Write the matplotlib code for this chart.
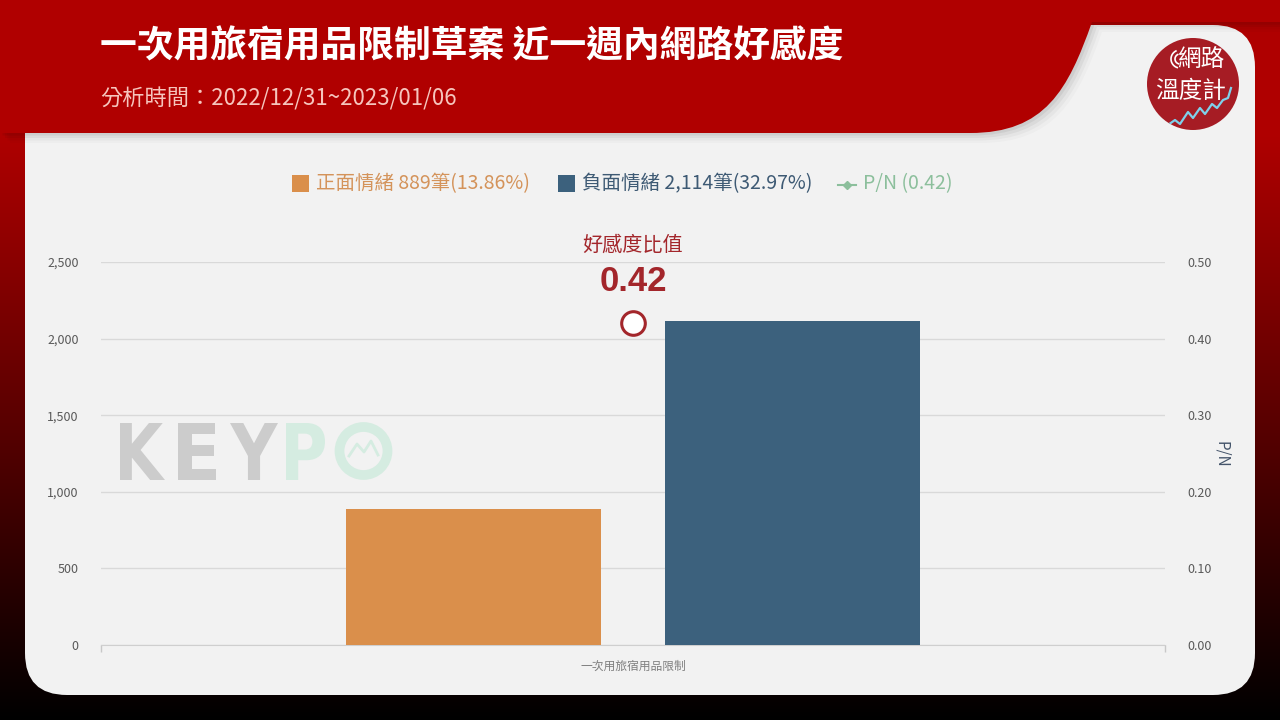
import numpy as np
import matplotlib
matplotlib.use('Agg')
import matplotlib.pyplot as plt
from matplotlib.patches import FancyBboxPatch, PathPatch, Rectangle, Circle
from matplotlib.path import Path
from matplotlib.lines import Line2D
from matplotlib.textpath import TextPath
from matplotlib.font_manager import FontProperties
import matplotlib.transforms as mtrans

plt.rcParams['font.family'] = ['Noto Sans CJK TC', 'DejaVu Sans']

# ---------------- data ----------------
title = '一次用旅宿用品限制草案 近一週內網路好感度'
subtitle = '分析時間：2022/12/31~2023/01/06'
categories = ['一次用旅宿用品限制']
positive = [889]
negative = [2114]
pn_ratio = [0.42]
legend_labels = ['正面情緒 889筆(13.86%)', '負面情緒 2,114筆(32.97%)', 'P/N (0.42)']
left_ticks = [0, 500, 1000, 1500, 2000, 2500]
right_ticks = [0.0, 0.1, 0.2, 0.3, 0.4, 0.5]
annot_title = '好感度比值'

ORANGE = '#da8f4b'
BLUE = '#3c617d'
GREEN = '#8cbf9c'
DARKRED = '#a3262b'

W, H = 1280, 720
fig = plt.figure(figsize=(12.8, 7.2), dpi=100)
bg = fig.add_axes([0, 0, 1, 1])
bg.set_xlim(0, W); bg.set_ylim(H, 0); bg.axis('off')

# background gradient (red -> black)
yy = np.linspace(0, H, 360)
r = np.clip((H - yy) / 587 * 0.69, 0, 0.69)
grad = np.zeros((360, 1, 3)); grad[:, 0, 0] = r
bg.imshow(grad, extent=[0, W, H, 0], aspect='auto', interpolation='bilinear', zorder=0)

# light panel
bg.add_patch(FancyBboxPatch((25, 25), 1230, 670, boxstyle='round,pad=0,rounding_size=42',
                            fc='#f2f2f2', ec='none', zorder=1))

# header band
M, L, C4, CL = Path.MOVETO, Path.LINETO, Path.CURVE4, Path.CLOSEPOLY
verts = [(0, 0), (W, 0), (W, 22), (1092, 22), (1068, 90), (1045, 133), (970, 133), (0, 133), (0, 0)]
codes = [M, L, L, L, C4, C4, C4, L, CL]
for k, a in enumerate([0.06, 0.045, 0.03, 0.02]):
    d = 2.5 * (k + 1)
    sh = [(vx + d, vy + d) if vy > 20 else (vx, vy) for vx, vy in verts]
    bg.add_patch(PathPatch(Path(sh, codes), fc='black', ec='none', alpha=a, zorder=1.5))
bg.add_patch(PathPatch(Path(verts, codes), fc='#b00000', ec='none', zorder=2))

bg.text(100, 47, title, color='white', fontsize=26.5, fontweight='bold', va='center', ha='left', zorder=3)
bg.text(100, 99, subtitle, color='#f6c5bd', fontsize=16, va='center', ha='left', zorder=3)

# logo
bg.add_patch(Circle((1193, 84), 46, fc='#a61c24', ec='none', zorder=3))
bg.text(1201, 60, '網路', color='white', fontsize=17, va='center', ha='center', zorder=4)
bg.text(1191, 91, '溫度計', color='white', fontsize=17, va='center', ha='center', zorder=4)
wave_x = [1155, 1165, 1175, 1180, 1188, 1193, 1200, 1205, 1212, 1217, 1223, 1228, 1231]
wave_y = [132, 127, 120, 124, 112, 118, 108, 114, 104, 108, 100, 98, 88]
wl, = bg.plot(wave_x, wave_y, color='#7fd0ea', lw=1.6, zorder=5)
wl.set_clip_path(Circle((1193, 84), 46, transform=bg.transData))
for rad in (5, 9):
    th = np.linspace(np.pi * 0.6, np.pi * 1.35, 20)
    bg.plot(1180 + rad * np.cos(th), 59 + rad * np.sin(th), color='white', lw=1.2, zorder=5)

# watermark KEYPO
fp = FontProperties(family='DejaVu Sans', weight='bold')
def draw_letter(ch, x0, x1, y_top, y_bot, color):
    tp = TextPath((0, 0), ch, size=100, prop=fp)
    bb = tp.get_extents()
    tr = (mtrans.Affine2D().translate(-bb.x0, -bb.y0)
          .scale((x1 - x0) / bb.width, -(y_bot - y_top) / bb.height).translate(x0, y_bot))
    bg.add_patch(PathPatch(tr.transform_path(tp), fc=color, ec='none', zorder=2))
draw_letter('K', 120, 165, 423, 480, '#cccccc')
draw_letter('E', 178, 216, 423, 480, '#cccccc')
draw_letter('Y', 230, 278, 423, 480, '#cccccc')
draw_letter('P', 286, 325, 423, 480, '#d5ece1')
bg.add_patch(Circle((363.5, 451), 24, fc='none', ec='#d5ece1', lw=7, zorder=2))
bg.plot([349, 357, 364, 371, 378], [456, 444, 452, 441, 455], color='#d5ece1', lw=2.0, zorder=2)

# legend
bg.add_patch(Rectangle((292, 175), 17, 17, fc=ORANGE, ec='none', zorder=3))
bg.text(316, 184, legend_labels[0], color='#d4935a', fontsize=14, va='center', ha='left', zorder=3)
bg.add_patch(Rectangle((558, 175), 17, 17, fc=BLUE, ec='none', zorder=3))
bg.text(582, 184, legend_labels[1], color='#3e5a74', fontsize=14, va='center', ha='left', zorder=3)
bg.add_line(Line2D([838, 856], [185, 185], color=GREEN, lw=1.5, zorder=3))
bg.plot([847], [185], marker='D', ms=4, color=GREEN, zorder=3)
bg.text(863, 184, legend_labels[2], color=GREEN, fontsize=14, va='center', ha='left', zorder=3)
bg.text(1221, 454, 'P/N', rotation=270, color='#44546a', fontsize=11, va='center', ha='center', zorder=3)

# ---------------- main chart ----------------
ax = fig.add_axes([101 / W, 1 - 645 / H, (1165 - 101) / W, (645 - 262) / H])
ax.set_facecolor('none')
x = np.arange(len(categories))
ax.bar(x - 0.15, positive, 0.24, color=ORANGE, zorder=3)
ax.bar(x + 0.15, negative, 0.24, color=BLUE, zorder=3)
ax.set_xlim(-0.5, 0.5); ax.set_ylim(0, 2500)
ax.set_yticks(left_ticks)
ax.set_yticklabels([f'{v:,}' for v in left_ticks])
ax.grid(axis='y', color='#d9d9d9', lw=1, zorder=0)
for s in ['top', 'left', 'right']:
    ax.spines[s].set_visible(False)
ax.spines['bottom'].set_color('#cfcfcf')
ax.tick_params(axis='y', length=0, pad=16, labelsize=9, labelcolor='#595959')
ax.set_xticks(x)
ax.set_xticklabels(categories)
ax.tick_params(axis='x', which='major', length=0, pad=11, labelsize=8.5, labelcolor='#808080')
ax.set_xticks([-0.5, 0.5], minor=True)
ax.tick_params(axis='x', which='minor', length=5, color='#c8c8c8', width=1)

ax2 = ax.twinx()
ax2.set_ylim(0, 0.5)
ax2.set_yticks(right_ticks)
ax2.set_yticklabels([f'{v:.2f}' for v in right_ticks])
for s in ax2.spines.values():
    s.set_visible(False)
ax2.tick_params(axis='y', length=0, pad=16, labelsize=9, labelcolor='#595959')
ax2.plot(x, pn_ratio, marker='o', ms=17, mfc='white', mec=DARKRED, mew=2.2, ls='none', zorder=5)
ax2.annotate(f'{pn_ratio[0]:.2f}', (x[0], pn_ratio[0]), xytext=(0, 30), textcoords='offset points',
             ha='center', va='center', fontsize=25, fontweight='bold', color=DARKRED,
             family=['Liberation Sans', 'DejaVu Sans'])
ax2.annotate(annot_title, (x[0], pn_ratio[0]), xytext=(0, 56.5), textcoords='offset points',
             ha='center', va='center', fontsize=14.5, color=DARKRED)

fig.savefig('out.png', dpi=100)
